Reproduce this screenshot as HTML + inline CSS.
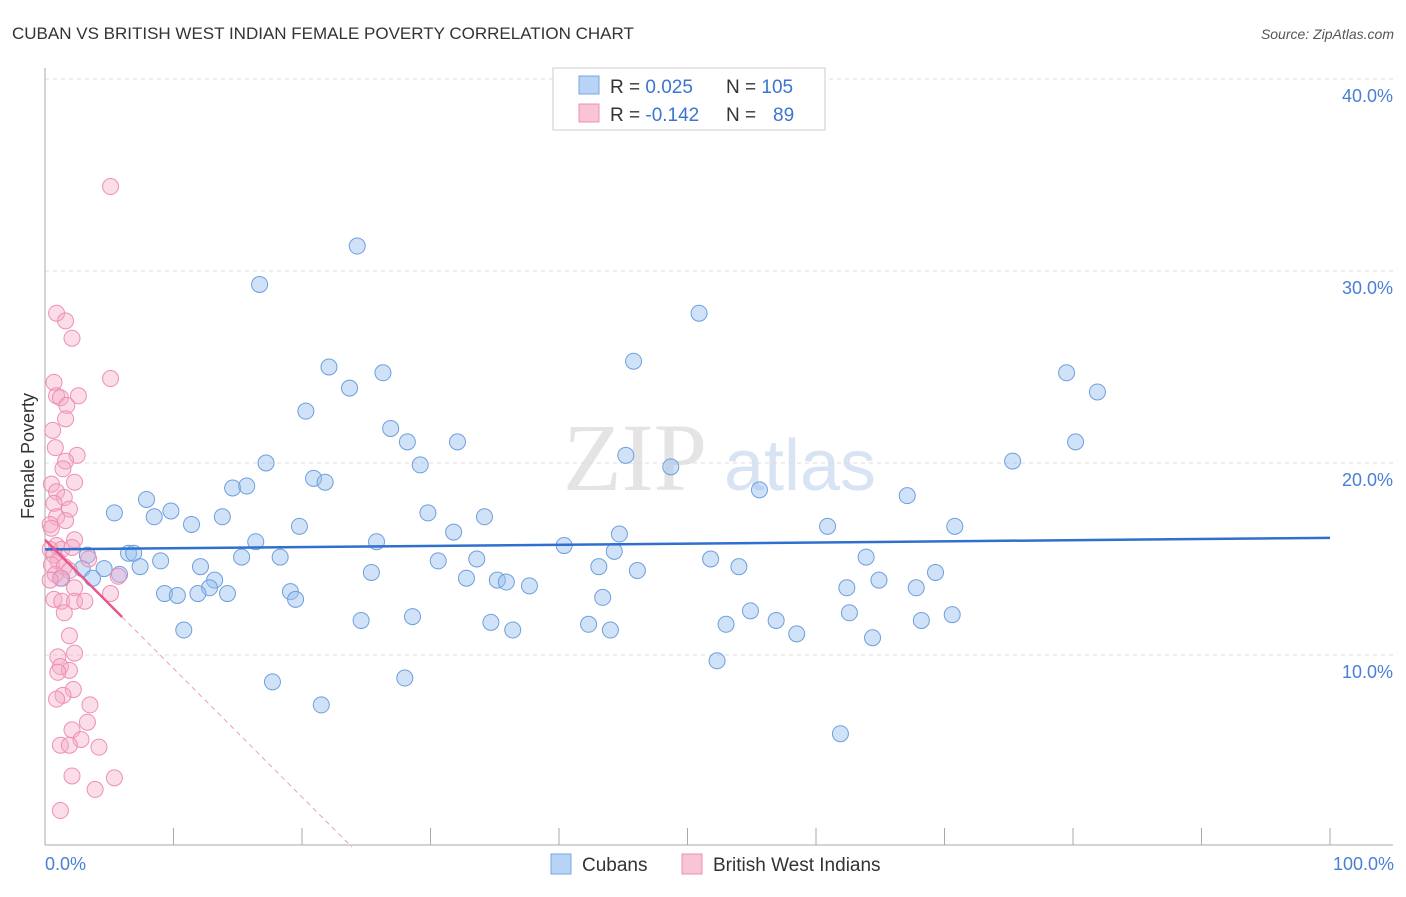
<!DOCTYPE html>
<html><head><meta charset="utf-8"><style>
body{margin:0;background:#fff;font-family:"Liberation Sans",sans-serif;}
</style></head><body>
<svg width="1406" height="892" xmlns="http://www.w3.org/2000/svg" id="chart">
<text x="12" y="39" font-size="17" fill="#333">CUBAN VS BRITISH WEST INDIAN FEMALE POVERTY CORRELATION CHART</text>
<text x="1394" y="39" font-size="14" fill="#555" text-anchor="end" font-style="italic">Source: ZipAtlas.com</text>
<text x="635" y="490" font-size="96" fill="#e4e4e4" font-family="Liberation Serif" text-anchor="middle">ZIP</text>
<text x="800" y="490" font-size="72" fill="#d8e4f4" text-anchor="middle">atlas</text>
<g id="grid"></g>
<g id="axes"></g>
<g id="marks"></g>
<text transform="translate(34,456) rotate(-90)" font-size="18" fill="#333" text-anchor="middle">Female Poverty</text>
<text x="45" y="870" font-size="18" fill="#4a7fd4">0.0%</text>
<text x="1394" y="870" font-size="18" fill="#4a7fd4" text-anchor="end">100.0%</text>
<g>
<rect x="553" y="68" width="272" height="62" fill="#fff" stroke="#ccc"/>
<rect x="579" y="76" width="20" height="18" fill="#b8d3f5" stroke="#7aa7e0"/>
<rect x="579" y="104" width="20" height="18" fill="#f9c4d6" stroke="#ee90b2"/>
<text x="610" y="93" font-size="19" fill="#333">R = <tspan fill="#3a75d0">0.025</tspan><tspan x="726">N = </tspan><tspan fill="#3a75d0">105</tspan></text>
<text x="610" y="121" font-size="19" fill="#333">R = <tspan fill="#3a75d0">-0.142</tspan><tspan x="726">N = </tspan><tspan x="773" fill="#3a75d0">89</tspan></text>
</g>
<g>
<rect x="551" y="854" width="20" height="20" fill="#b8d3f5" stroke="#7aa7e0"/>
<text x="582" y="871" font-size="19" fill="#333">Cubans</text>
<rect x="682" y="854" width="20" height="20" fill="#f9c4d6" stroke="#ee90b2"/>
<text x="713" y="871" font-size="19" fill="#333">British West Indians</text>
</g>
</svg>
<script>
const yTicks=[10,20,30,40];
const xTicks=[0,10,20,30,40,50,60,70,80,90,100];
const cubanX=[16.7,24.3,50.9,45.8,22.1,26.3,23.7,20.3,26.9,28.2,32.1,29.2,45.2,48.7,17.2,20.9,21.8,14.6,15.7,7.9,55.6,67.1,79.5,81.9,80.2,75.3,5.4,9.8,8.5,13.8,29.8,34.2,11.4,19.8,31.8,44.7,60.9,70.8,16.4,25.8,40.4,6.5,6.9,44.3,9.0,15.3,18.3,30.6,33.6,51.8,63.9,3.3,7.4,12.1,2.9,4.6,5.8,25.4,43.1,46.1,54.0,69.3,3.7,1.3,32.8,35.2,35.9,37.7,13.2,12.8,64.9,62.4,67.8,9.3,10.3,11.9,14.2,19.1,19.5,43.4,54.9,62.6,70.6,24.6,28.6,34.7,42.3,53.0,56.9,68.2,10.8,36.4,44.0,58.5,64.4,52.3,17.7,28.0,21.5,61.9];
const cubanY=[29.3,31.3,27.8,25.3,25.0,24.7,23.9,22.7,21.8,21.1,21.1,19.9,20.4,19.8,20.0,19.2,19.0,18.7,18.8,18.1,18.6,18.3,24.7,23.7,21.1,20.1,17.4,17.5,17.2,17.2,17.4,17.2,16.8,16.7,16.4,16.3,16.7,16.7,15.9,15.9,15.7,15.3,15.3,15.4,14.9,15.1,15.1,14.9,15.0,15.0,15.1,15.2,14.6,14.6,14.5,14.5,14.2,14.3,14.6,14.4,14.6,14.3,14.0,14.0,14.0,13.9,13.8,13.6,13.9,13.5,13.9,13.5,13.5,13.2,13.1,13.2,13.2,13.3,12.9,13.0,12.3,12.2,12.1,11.8,12.0,11.7,11.6,11.6,11.8,11.8,11.3,11.3,11.3,11.1,10.9,9.7,8.6,8.8,7.4,5.9];
const bwiX=[5.1,0.9,1.6,2.1,5.1,0.7,0.9,2.6,1.2,1.7,1.6,0.6,0.8,2.5,1.6,1.4,2.3,0.5,0.9,1.5,0.7,1.9,0.9,1.6,0.4,0.5,2.3,0.9,0.4,1.3,2.1,0.7,1.0,3.4,0.5,1.5,1.9,0.8,1.2,5.7,0.4,2.3,5.1,0.7,1.3,2.3,3.1,1.5,1.9,2.3,1.0,1.2,1.9,1.0,2.2,1.4,0.9,3.5,3.3,2.1,2.8,1.2,1.9,4.2,2.1,5.4,3.9,1.2];
const bwiY=[34.4,27.8,27.4,26.5,24.4,24.2,23.5,23.5,23.4,23.0,22.3,21.7,20.8,20.4,20.1,19.7,19.0,18.9,18.5,18.2,17.9,17.6,17.2,17.0,16.8,16.6,16.0,15.7,15.5,15.5,15.6,15.2,14.9,15.0,14.7,14.6,14.4,14.2,14.0,14.1,13.9,13.5,13.2,12.9,12.8,12.8,12.8,12.2,11.0,10.1,9.9,9.4,9.2,9.1,8.2,7.9,7.7,7.4,6.5,6.1,5.6,5.3,5.3,5.2,3.7,3.6,3.0,1.9];
const cubanTrend=[15.5,16.1];
const bwiTrend=[16.0,-0.67];
const NS="http://www.w3.org/2000/svg";
const X=v=>45+v*12.85, Y=v=>847-v*19.2;
function mk(tag,at,parent){const e=document.createElementNS(NS,tag);for(const k in at)e.setAttribute(k,at[k]);document.getElementById(parent).appendChild(e);return e;}
yTicks.forEach(t=>{
  const l=mk('line',{x1:45,x2:1393,y1:Y(t),y2:Y(t),stroke:'#ddd','stroke-dasharray':'4,4'},'grid');
  
  
  const tx=mk('text',{x:1393,y:Y(t)+23,'font-size':18,fill:'#4a7fd4','text-anchor':'end'},'grid');
  tx.textContent=t.toFixed(1)+'%';
  
  
});
let ax=mk('line',{x1:45,x2:1393,y1:845,y2:845,stroke:'#aaa'},'axes');


let ay=mk('line',{x1:45,x2:45,y1:68,y2:845,stroke:'#aaa'},'axes');


xTicks.forEach(t=>{
  const l=mk('line',{x1:X(t),x2:X(t),y1:828,y2:845,stroke:'#aaa'},'axes');
  
  
});
cubanX.forEach((x,i)=>{
  const c=mk('circle',{cx:X(x),cy:Y(cubanY[i]),r:8,fill:'rgba(150,190,240,0.45)',stroke:'#6e9fdc','stroke-width':1},'marks');
  
  
});
bwiX.forEach((x,i)=>{
  const c=mk('circle',{cx:X(x),cy:Y(bwiY[i]),r:8,fill:'rgba(245,170,200,0.4)',stroke:'#ee8fb3','stroke-width':1},'marks');
  
  
});
let t1=mk('line',{x1:X(0),x2:X(100),y1:Y(cubanTrend[0]),y2:Y(cubanTrend[1]),stroke:'#2f6fd0','stroke-width':2.5},'marks');


const bx0=-bwiTrend[0]/bwiTrend[1];
let t2=mk('line',{x1:X(0),x2:X(6),y1:Y(bwiTrend[0]),y2:Y(bwiTrend[0]+bwiTrend[1]*6),stroke:'#e8578b','stroke-width':2.5},'marks');


let t3=mk('line',{x1:X(6),x2:X(bx0),y1:Y(bwiTrend[0]+bwiTrend[1]*6),y2:Y(0),stroke:'#eaa0bc','stroke-width':1,'stroke-dasharray':'5,4'},'marks');


</script>
</body></html>
